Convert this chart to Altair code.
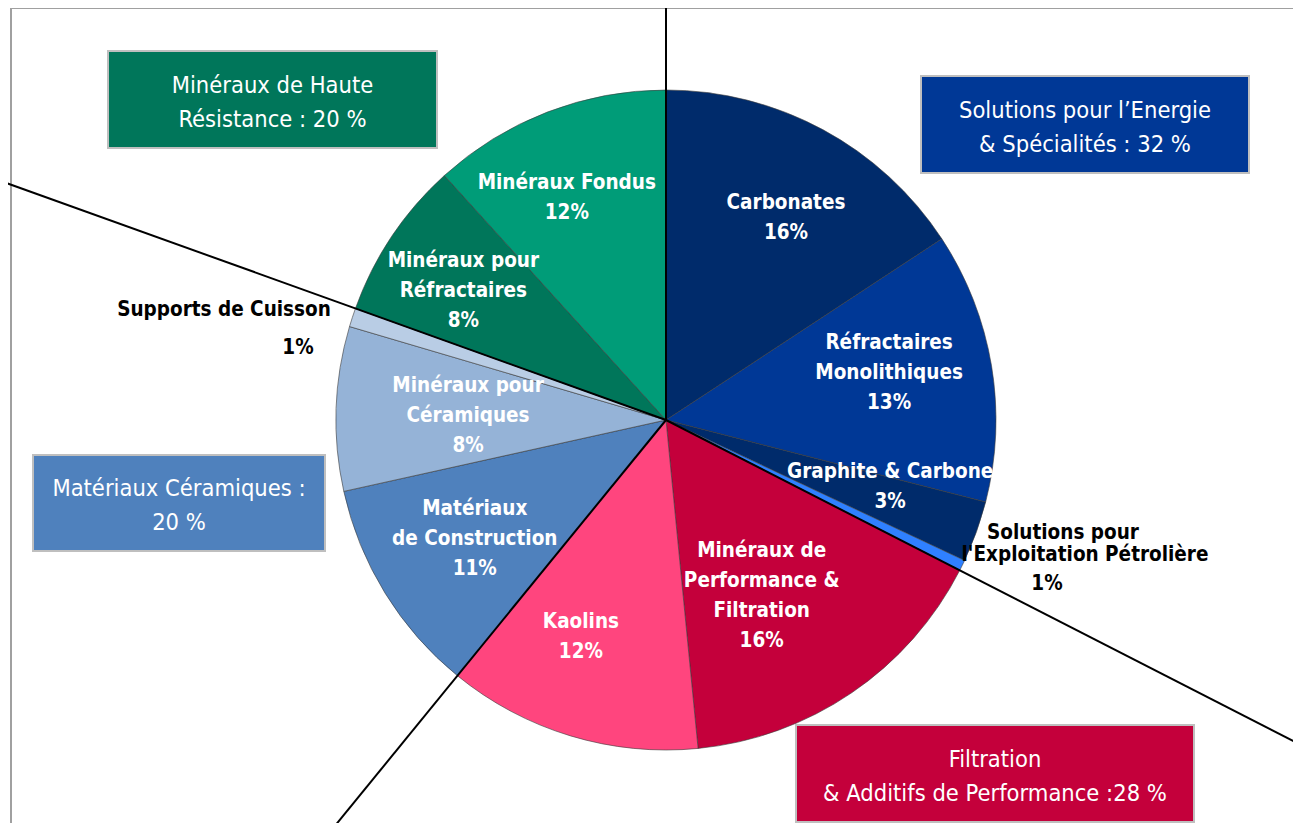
import math
import numpy as np
import pandas as pd
import altair as alt

# ---------------- data ----------------
segments = [
    "Carbonates", "Réfractaires Monolithiques", "Graphite & Carbone",
    "Solutions pour l'Exploitation Pétrolière", "Minéraux de Performance & Filtration",
    "Kaolins", "Matériaux de Construction", "Minéraux pour Céramiques",
    "Supports de Cuisson", "Minéraux pour Réfractaires", "Minéraux Fondus",
]
shares = [15.75, 13.25, 3.0, 0.53, 15.92, 12.44, 10.64, 8.04, 0.92, 7.79, 11.72]
pct_labels = ["16%", "13%", "3%", "1%", "16%", "12%", "11%", "8%", "1%", "8%", "12%"]
inner_names = [
    "Carbonates", "Réfractaires\nMonolithiques", "Graphite & Carbone", None,
    "Minéraux de\nPerformance &\nFiltration", "Kaolins", "Matériaux\nde Construction",
    "Minéraux pour\nCéramiques", None, "Minéraux pour\nRéfractaires", "Minéraux Fondus",
]
seg_colors = ["#002B6B", "#003896", "#002B6B", "#2F80FF", "#C4003B", "#FF457E",
              "#4F81BD", "#95B3D7", "#B9CDE5", "#00765A", "#009C78"]

groups = ["Solutions pour l’Energie\n& Spécialités : 32 %",
          "Filtration\n& Additifs de Performance :28 %",
          "Matériaux Céramiques :\n20 %",
          "Minéraux de Haute\nRésistance : 20 %"]
group_first_segment = [0, 4, 6, 9]
group_colors = ["#003896", "#C4003B", "#4F81BD", "#00765A"]

# ---------------- layout ----------------
W, H = 1285, 815
CX, CY, R = 658, 412, 330
FONT = "Liberation Sans Narrow, Arial Narrow, DejaVu Sans Condensed, sans-serif"
LAB_LH = 30
BOX_LH = 34
label_nudge_deg = [2.35, -2.45, -3.15, 0, 5.65, 4.6, -0.15, -0.8, 0, -1.4, -3.0]
label_radius = [235, 228, 234, 0, 200, 233, 225, 198, 0, 240, 243]
line_length = [440, 1000, 700, 720]
box_rects = [(913, 68, 1241, 165), (788, 717, 1186, 814), (25, 447, 317, 543), (100, 43, 429, 140)]

# ---------------- derived tables ----------------
cum = np.concatenate([[0.0], np.cumsum(shares)])
total = cum[-1]

pie_df = pd.DataFrame({
    "segment": segments, "share": shares, "order": list(range(len(segments))),
    "fill": seg_colors,
})

rows = []
for i, nm in enumerate(inner_names):
    if nm is None:
        continue
    txt = nm + "\n" + pct_labels[i]
    n_lines = txt.count("\n") + 1
    mid = (cum[i] + cum[i + 1]) / 2 / total * 360 + label_nudge_deg[i]
    a = math.radians(mid)
    rows.append({"text": txt,
                 "lx": CX + label_radius[i] * math.sin(a),
                 "ly": CY - label_radius[i] * math.cos(a) - (n_lines - 1) * LAB_LH / 2})
lab_df = pd.DataFrame(rows)

lines = []
for g, idx in enumerate(group_first_segment):
    a = math.radians(cum[idx] / total * 360)
    L = line_length[g]
    lines.append({"x": CX, "y": CY, "x2": CX + L * math.sin(a), "y2": CY - L * math.cos(a)})
line_df = pd.DataFrame(lines)

box_df = pd.DataFrame({
    "group": groups, "fill": group_colors,
    "bx0": [b[0] for b in box_rects], "by0": [b[1] for b in box_rects],
    "bx1": [b[2] for b in box_rects], "by1": [b[3] for b in box_rects],
})
box_df["tx"] = (box_df["bx0"] + box_df["bx1"]) / 2
box_df["ty"] = (box_df["by0"] + box_df["by1"]) / 2 - BOX_LH / 2 + 3

outer_df = pd.DataFrame({
    "text": ["Solutions pour", "l'Exploitation Pétrolière", pct_labels[3],
             segments[8], pct_labels[8]],
    "ox": [1055, 1077, 1039, 216, 290],
    "oy": [525, 547, 576, 302, 340],
})

one = pd.DataFrame({"a": [0]})

frame = alt.Chart(one).mark_rect(fillOpacity=0, stroke="#A0A0A0", strokeWidth=2).encode(
    x=alt.value(3), y=alt.value(0), x2=alt.value(W + 30), y2=alt.value(H + 30))

pie = alt.Chart(pie_df).mark_arc(radius=R, stroke="#3a3a3a", strokeWidth=0.6).encode(
    theta=alt.Theta("share:Q", stack=True),
    color=alt.Color("fill:N", scale=None),
    order=alt.Order("order:Q"),
    x=alt.value(CX), y=alt.value(CY),
)

dividers = alt.Chart(line_df).mark_rule(color="black", strokeWidth=2).encode(
    x=alt.X("x:Q", scale=None, axis=None), y=alt.Y("y:Q", scale=None, axis=None),
    x2="x2:Q", y2="y2:Q")

boxes = alt.Chart(box_df).mark_rect(stroke="#BFBFBF", strokeWidth=2).encode(
    x=alt.X("bx0:Q", scale=None, axis=None), y=alt.Y("by0:Q", scale=None, axis=None),
    x2="bx1:Q", y2="by1:Q", color=alt.Color("fill:N", scale=None))

box_text = alt.Chart(box_df).mark_text(
    font=FONT, fontSize=23.5, color="white", lineBreak="\n", lineHeight=BOX_LH,
    align="center", baseline="middle").encode(
    x=alt.X("tx:Q", scale=None, axis=None), y=alt.Y("ty:Q", scale=None, axis=None),
    text="group:N")

inner_text = alt.Chart(lab_df).mark_text(
    font=FONT, fontSize=20.5, fontWeight="bold", color="white", lineBreak="\n",
    lineHeight=LAB_LH, align="center", baseline="middle").encode(
    x=alt.X("lx:Q", scale=None, axis=None), y=alt.Y("ly:Q", scale=None, axis=None),
    text="text:N")

outer_text = alt.Chart(outer_df).mark_text(
    font=FONT, fontSize=20.5, fontWeight="bold", color="black",
    align="center", baseline="middle").encode(
    x=alt.X("ox:Q", scale=None, axis=None), y=alt.Y("oy:Q", scale=None, axis=None),
    text="text:N")

chart = alt.layer(frame, pie, dividers, boxes, box_text, inner_text, outer_text).properties(
    width=W, height=H, padding=0, autosize=alt.AutoSizeParams(type="none"),
).configure_view(strokeWidth=0)

chart.save("out.html", embed_options={"renderer": "svg", "actions": False})
